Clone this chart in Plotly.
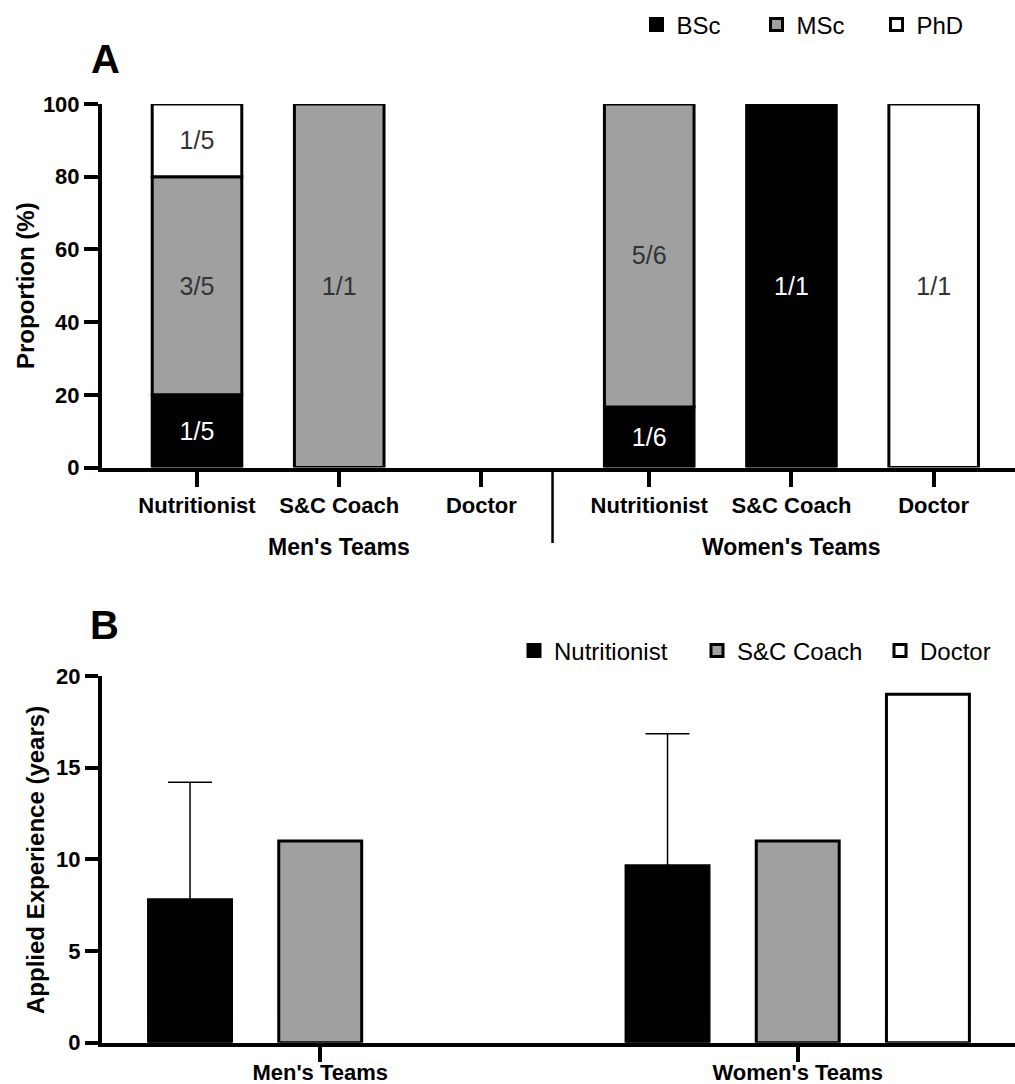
import numpy as np
import plotly.graph_objects as go

# ---------------- data ----------------
roles = ["Nutritionist", "S&C Coach", "Doctor"]
teams = ["Men's Teams", "Women's Teams"]
degrees = ["BSc", "MSc", "PhD"]

# Panel A: number of staff holding each degree (men's roles, then women's roles)
bsc_counts = [1, 0, 0, 1, 1, 0]
msc_counts = [3, 1, 0, 5, 0, 0]
phd_counts = [1, 0, 0, 0, 0, 1]

# Panel B: applied experience (years), per role: [men, women]
exp_nutritionist = [7.8, 9.65]
exp_nutritionist_sd = [6.4, 7.2]
exp_sc_coach = [11.0, 11.0]
exp_doctor = [None, 19.0]

prop_ticks = [0, 20, 40, 60, 80, 100]
exp_ticks = [0, 5, 10, 15, 20]

# ---------------- styles ----------------
W, H = 1015, 1084
FONT = "Liberation Sans, Arial, Helvetica, sans-serif"
GRAY = "#a0a0a0"
DARK = "#333333"
GROUP_GAP = 0.18


def py(px):
    return 1 - px / H


counts = np.array([bsc_counts, msc_counts, phd_counts], dtype=float)
totals = counts.sum(axis=0)
with np.errstate(invalid="ignore", divide="ignore"):
    props = np.where(totals > 0, counts / totals * 100, np.nan)
bases = np.vstack([np.zeros(counts.shape[1]), np.cumsum(np.nan_to_num(props), axis=0)[:-1]])

n_roles = len(roles)
x_pos = [g * (n_roles + GROUP_GAP) + i for g in range(len(teams)) for i in range(n_roles)]

fills = ["black", GRAY, "white"]
txt_colors = ["white", DARK, DARK]

fig = go.Figure()

for k, deg in enumerate(degrees):
    vals = [None if np.isnan(v) or v == 0 else float(v) for v in props[k]]
    labels = [f"{int(c)}/{int(t)}" if c > 0 else "" for c, t in zip(counts[k], totals)]
    fig.add_trace(go.Bar(
        x=x_pos, y=vals, base=bases[k].tolist(), text=labels,
        name=deg, offsetgroup="edu", width=0.63,
        marker=dict(color=fills[k], line=dict(color="black", width=3)),
        textposition="inside", insidetextanchor="middle", textangle=0,
        textfont=dict(size=25, color=txt_colors[k], family=FONT),
        constraintext="none", cliponaxis=False,
        xaxis="x", yaxis="y", legend="legend",
        legendwidth=(60 if k == len(degrees) - 1 else None),
    ))

b_series = [("Nutritionist", exp_nutritionist, "black", exp_nutritionist_sd),
            ("S&C Coach", exp_sc_coach, GRAY, None),
            ("Doctor", exp_doctor, "white", None)]
for k, (nm, vals, col, sd) in enumerate(b_series):
    err = None
    if sd is not None:
        err = dict(type="data", array=sd, arrayminus=[0] * len(sd), symmetric=False,
                   color="black", thickness=1.5, width=22)
    fig.add_trace(go.Bar(
        x=teams, y=vals, name=nm, offsetgroup=str(k),
        marker=dict(color=col, line=dict(color="black", width=3)),
        error_y=err, cliponaxis=False,
        xaxis="x2", yaxis="y2", legend="legend2",
        legendwidth=(80 if k == len(b_series) - 1 else None),
    ))

axis_common = dict(showline=True, linewidth=4, linecolor="black", ticks="outside",
                   tickwidth=4, tickcolor="black", showgrid=False, zeroline=False,
                   automargin=False,
                   tickfont=dict(family=FONT, size=22, color="black", weight="bold"))

fig.update_layout(
    width=W, height=H, margin=dict(l=0, r=0, t=0, b=0, autoexpand=False),
    paper_bgcolor="white", plot_bgcolor="white",
    barmode="group", bargap=0.182, bargroupgap=0.363,
    font=dict(family=FONT, color="black"),
    xaxis=dict(domain=[102 / W, 1], range=[-0.668, 5.752], tickvals=x_pos,
               ticktext=roles * len(teams), ticklen=15, anchor="y", **axis_common),
    yaxis=dict(domain=[py(467.5), py(104)], range=[0, 100], tickvals=prop_ticks,
               ticklen=14, anchor="x", **axis_common),
    xaxis2=dict(domain=[102 / W, 1], range=[-0.457, 1.455], type="category",
                ticklen=15, ticklabelstandoff=-8, anchor="y2", **axis_common),
    yaxis2=dict(domain=[py(1042.7), py(676)], range=[0, 20], tickvals=exp_ticks,
                ticklen=13, anchor="x2", **axis_common),
    legend=dict(orientation="h", x=(656.5 - 20) / W, xanchor="left", y=py(25), yanchor="middle",
                font=dict(family=FONT, size=24, color="black"), entrywidth=75,
                bgcolor="rgba(0,0,0,0)", traceorder="normal"),
    legend2=dict(orientation="h", x=(534 - 20) / W, xanchor="left", y=py(651), yanchor="middle",
                 font=dict(family=FONT, size=24, color="black"), entrywidth=138,
                 bgcolor="rgba(0,0,0,0)", traceorder="normal"),
    showlegend=True,
)

# group labels of panel A
group_centers = [g * (n_roles + GROUP_GAP) + (n_roles - 1) / 2 for g in range(len(teams))]
for gc, team in zip(group_centers, teams):
    fig.add_annotation(x=gc, xref="x", y=py(547), yref="paper", text=team, showarrow=False,
                       font=dict(family=FONT, size=23, color="black", weight="bold"),
                       xanchor="center", yanchor="middle")

# divider between the two groups of panel A
div_x = (n_roles - 1) + 0.5
fig.add_shape(type="line", xref="x", yref="paper", x0=div_x, x1=div_x, y0=py(469), y1=py(543),
              line=dict(color="black", width=2.5))

# axis titles and panel letters
fig.add_annotation(x=25 / W, y=py(286), xref="paper", yref="paper", text="Proportion (%)",
                   textangle=-90, showarrow=False, xanchor="center", yanchor="middle",
                   font=dict(family=FONT, size=24, color="black", weight="bold"))
fig.add_annotation(x=35 / W, y=py(860), xref="paper", yref="paper", text="Applied Experience (years)",
                   textangle=-90, showarrow=False, xanchor="center", yanchor="middle",
                   font=dict(family=FONT, size=24, color="black", weight="bold"))
for letter, cx, cy in [("A", 105, 59), ("B", 104, 625)]:
    fig.add_annotation(x=cx / W, y=py(cy), xref="paper", yref="paper", text=letter,
                       showarrow=False, xanchor="center", yanchor="middle",
                       font=dict(family=FONT, size=40, color="black", weight="bold"))

fig.write_html("out.html")
